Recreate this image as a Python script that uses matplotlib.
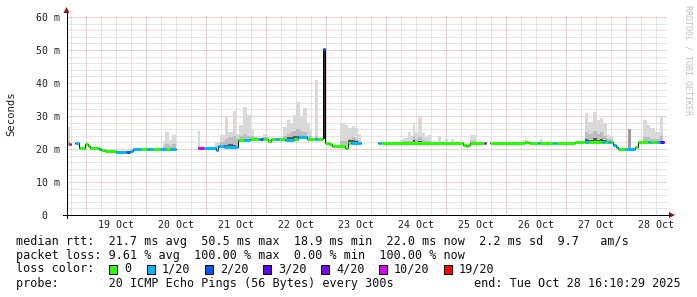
import matplotlib
matplotlib.use("Agg")
import matplotlib.pyplot as plt
from matplotlib.patches import Polygon, Rectangle

# ---------------- data (time in hours since 19 Oct 00:00, values in ms) -------------
day_labels = ["19 Oct", "20 Oct", "21 Oct", "22 Oct", "23 Oct",
              "24 Oct", "25 Oct", "26 Oct", "27 Oct", "28 Oct"]
ytick_vals = [0, 10, 20, 30, 40, 50, 60]
ytick_labels = ["0  ", "10 m", "20 m", "30 m", "40 m", "50 m", "60 m"]

loss_colors = ["#26ff00", "#00b8ff", "#0059ff", "#5e00ff", "#7e00ff", "#dd00ff", "#ff0000"]
loss_labels = ["0", "1/20", "2/20", "3/20", "4/20", "10/20", "19/20"]

# median rtt segments: start, end, value, loss-colour index
med_start = [-7.5, -6.7, -4.3, -2.7, -0.3, 0.9, 1.7, 5.3, 6.1, 7.7, 12.1, 16.1, 17.7, 18.9,
             22.1, 24.5, 26.9, 29.7, 32.1, 33.7,
             44.9, 47.3, 52.1, 52.9, 55.3, 60.9, 63.3, 65.7, 68.9, 69.7, 70.9, 72.9, 74.1,
             75.7, 77.3, 79.7, 83.3, 84.9, 88.5, 91.7, 92.9, 94.9, 95.7, 97.3, 98.5, 103.7,
             104.9, 106.1,
             116.9, 118.1, 150.9, 152.1, 152.9, 153.7, 159.3,
             161.7, 175.7, 177.3, 180.9, 181.7, 186.9, 188.1, 195.7, 199.7, 200.9, 206.5,
             207.7, 208.9, 210.1, 210.9, 212.1, 212.9, 215.7, 219.7, 220.9, 224.9, 226.1,
             228.5, 229.7]
med_end = [-6.7, -5.9, -2.7, -0.3, 0.9, 1.7, 5.3, 6.1, 7.7, 12.1, 16.1, 17.7, 18.9, 22.1,
           24.5, 26.9, 29.7, 32.1, 33.7, 36.1,
           47.3, 52.1, 52.9, 55.3, 60.9, 63.3, 65.7, 68.9, 69.7, 70.9, 72.9, 74.1, 75.7,
           77.3, 79.7, 83.3, 84.9, 88.5, 91.7, 92.9, 94.9, 95.7, 97.3, 98.5, 103.7, 104.9,
           106.1, 110.1,
           118.1, 150.9, 152.1, 152.9, 153.7, 159.3, 160.1,
           175.7, 177.3, 180.9, 181.7, 186.9, 188.1, 195.7, 199.7, 200.9, 206.5, 207.7,
           208.9, 210.1, 210.9, 212.1, 212.9, 215.7, 219.7, 220.9, 224.9, 226.1, 228.5,
           229.7, 231.3]
med_ms = [21.5, 21.5, 21.8, 20.2, 21.5, 20.9, 20.2, 19.9, 19.6, 19.3, 19.0, 19.0, 19.4, 20.0,
          20.0, 20.0, 20.0, 20.0, 20.0, 20.0,
          20.4, 20.3, 19.7, 20.9, 20.7, 22.6, 22.6, 22.9, 22.9, 22.9, 22.9, 22.4, 23.0,
          23.0, 23.0, 22.8, 23.0, 23.7, 23.0, 23.0, 23.0, 50.4, 21.9, 21.5, 20.9, 20.4,
          21.9, 21.9,
          21.9, 21.9, 21.2, 20.8, 21.3, 21.9, 21.9,
          21.9, 22.2, 21.9, 21.9, 21.9, 21.9, 21.9, 22.2, 22.2, 22.2, 22.2,
          22.2, 22.2, 22.0, 21.2, 20.7, 20.1, 20.1, 20.7, 22.0, 22.0, 22.0,
          22.0, 22.0]
med_loss = [0, 5, 1, 0, 0, 0, 0, 1, 0, 0, 1, 2, 1, 1,
            0, 1, 0, 1, 0, 1,
            5, 1, 1, 1, 1, 0, 1, 0, 1, 2, 0, 0, 0,
            1, 0, 1, 0, 1, 0, 1, 0, 2, 0, 0, 0, 0,
            0, 1,
            1, 0, 0, 0, 0, 0, 5,
            0, 0, 0, 1, 0, 1, 0, 0, 1, 0, 1,
            0, 1, 0, 1, 1, 0, 1, 0, 0, 1, 0,
            1, 3]

# smoke (ping spread): start, end, low, dark, mid, top
smoke_start = [-7.1, 30.9, 31.7, 33.3, 34.5, 44.9,
               51.7, 53.7, 55.7, 56.9, 58.9, 60.1, 61.3, 62.9, 64.5, 66.1, 67.3, 70.9,
               78.9, 80.5, 81.7, 82.9, 84.1, 85.7, 86.9, 88.5, 89.7, 91.7, 94.9,
               101.7, 103.7, 104.9, 106.5, 107.7, 108.9,
               125.7, 126.9, 128.9, 130.1, 130.9, 131.7, 132.9, 134.5, 135.7, 136.9,
               140.9, 143.7, 146.1, 153.7, 174.9, 181.7,
               199.7, 200.9, 202.9, 204.5, 205.7, 206.9, 208.5, 209.7, 216.9,
               222.9, 224.5, 225.7, 227.7, 229.7]
smoke_end = [-6.3, 31.7, 33.3, 34.5, 36.1, 45.7,
             53.7, 55.7, 56.9, 58.9, 60.1, 61.3, 62.9, 64.5, 66.1, 67.3, 68.5, 72.9,
             80.5, 81.7, 82.9, 84.1, 85.7, 86.9, 88.5, 89.7, 90.5, 92.9, 95.7,
             103.7, 104.9, 106.5, 107.7, 108.9, 110.1,
             126.9, 128.9, 130.1, 130.9, 131.7, 132.9, 134.5, 135.7, 136.9, 138.1,
             142.1, 144.9, 147.3, 156.1, 176.5, 182.9,
             200.9, 202.9, 204.5, 205.7, 206.9, 208.5, 209.7, 210.9, 218.1,
             224.5, 225.7, 227.7, 229.7, 230.9]
smoke_low = [21.5, 20.0, 20.0, 20.0, 20.0, 20.4,
             20.3, 20.7, 20.7, 20.7, 20.7, 20.7, 22.6, 22.6, 22.6, 22.9, 22.9, 22.9,
             23.0, 23.0, 23.0, 23.0, 23.0, 23.0, 23.0, 23.0, 23.0, 23.0, 23.0,
             20.9, 20.9, 21.9, 21.9, 21.9, 21.9,
             21.9, 21.9, 21.9, 21.9, 21.9, 21.9, 21.9, 21.9, 21.9, 21.9,
             21.9, 21.9, 21.9, 21.9, 21.9, 21.9,
             22.2, 22.2, 22.2, 22.2, 22.2, 22.2, 22.2, 22.2, 20.1,
             22.0, 22.0, 22.0, 22.0, 22.0]
smoke_dark = [21.5, 20.0, 20.0, 20.0, 20.0, 20.4,
              20.3, 21.1, 21.3, 21.4, 21.2, 20.7, 22.6, 22.6, 22.6, 22.9, 22.9, 22.9,
              23.0, 23.5, 23.6, 23.8, 23.8, 23.8, 23.6, 23.0, 23.0, 23.0, 50.4,
              20.9, 20.9, 22.6, 22.8, 22.5, 21.9,
              21.9, 21.9, 21.9, 21.9, 22.6, 21.9, 22.4, 21.9, 21.9, 21.9,
              21.9, 21.9, 21.9, 21.9, 21.9, 21.9,
              23.0, 22.8, 23.2, 22.8, 23.0, 22.6, 22.2, 22.2, 26.0,
              22.5, 22.5, 22.0, 22.0, 22.5]
smoke_mid = [22.5, 20.8, 21.5, 21.0, 21.5, 21.0,
             21.0, 22.0, 23.0, 23.5, 24.0, 23.0, 24.0, 24.5, 24.0, 23.8, 23.5, 23.5,
             24.0, 24.5, 25.0, 25.5, 26.0, 25.5, 25.0, 24.0, 23.8, 24.0, 50.4,
             22.5, 22.5, 23.0, 23.5, 23.0, 22.5,
             22.2, 22.3, 22.5, 22.5, 24.0, 23.0, 23.5, 22.8, 22.5, 22.5,
             22.2, 22.2, 22.2, 22.5, 22.2, 22.2,
             25.0, 24.5, 25.5, 24.5, 25.0, 24.0, 23.0, 23.0, 26.0,
             23.5, 23.5, 23.0, 23.0, 24.0]
smoke_top = [26.8, 22.5, 25.2, 22.7, 24.3, 25.5,
             22.2, 24.2, 29.8, 25.2, 31.5, 24.5, 27.3, 32.8, 30.3, 25.8, 23.9, 24.5,
             26.8, 28.8, 27.8, 30.3, 34.3, 29.8, 32.3, 27.8, 25.8, 40.9, 50.4,
             27.8, 27.3, 26.3, 27.0, 26.3, 24.5,
             22.7, 23.2, 25.2, 24.0, 27.8, 25.2, 29.6, 24.7, 23.5, 24.2,
             24.0, 22.9, 22.9, 24.2, 22.7, 22.9,
             30.8, 28.3, 31.3, 28.8, 29.3, 27.8, 24.2, 24.0, 26.0,
             28.8, 27.3, 26.3, 25.2, 30.0]

legend_rtt = "median rtt:  21.7 ms avg  50.5 ms max  18.9 ms min  22.0 ms now  2.2 ms sd  9.7   am/s"
legend_loss = "packet loss: 9.61 % avg  100.00 % max  0.00 % min  100.00 % now"
legend_probe = "probe:       20 ICMP Echo Pings (56 Bytes) every 300s"
legend_end = "end: Tue Oct 28 16:10:29 2025"

# ---------------- figure ----------------
W, H = 697, 297
fig = plt.figure(figsize=(W / 100, H / 100), dpi=100)
fig.patch.set_facecolor("white")
MONO = "DejaVu Sans Mono"

x0, y_bottom, pw, ph = 66.5, 215.0, 600.0, 200.0
ax = fig.add_axes([x0 / W, (H - y_bottom) / H, pw / W, ph / H])
ax.set_facecolor("white")
ax.set_xlim(-7.68, 232.32)
ax.set_ylim(0, 200 / 3.3)
for s in ax.spines.values():
    s.set_visible(False)

px = 0.72  # one pixel in points
minor_c = "#cccccc"
major_c = "#eba0a0"
# minor grid
for v in range(0, 61, 2):
    if v % 10:
        ax.axhline(v, color=minor_c, lw=px, ls=(0, (1, 1)), zorder=0)
for h in range(-6, 233, 6):
    if h % 24:
        ax.axvline(h, color=minor_c, lw=px, ls=(0, (1, 1)), zorder=0)
# major grid
for v in ytick_vals[1:]:
    ax.axhline(v, color=major_c, lw=px, ls=(0, (1, 1)), zorder=0.5)
for h in range(0, 233, 24):
    ax.axvline(h, color=major_c, lw=px, ls=(0, (1, 1)), zorder=0.5)

# smoke
for s, e, lo, dk, md, tp in zip(smoke_start, smoke_end, smoke_low, smoke_dark, smoke_mid, smoke_top):
    ax.bar(s, tp - lo, bottom=lo, width=e - s, align="edge", color="#d9d9d9", lw=0, zorder=1)
    ax.bar(s, md - lo, bottom=lo, width=e - s, align="edge", color="#bdbdbd", lw=0, zorder=1.1)
    if dk > lo:
        dcol = "#2e2e2e" if dk - lo > 10 else ("#9a9a9a" if dk - lo > 2 else "#5a5a5a")
        ax.bar(s, dk - lo, bottom=lo, width=e - s, align="edge", color=dcol, lw=0, zorder=1.2)

# black connector line for median steps
xs, ys = [], []
for i in range(len(med_start)):
    if i > 0 and abs(med_start[i] - med_end[i - 1]) > 1e-6:
        ax.plot(xs, ys, color="black", lw=px, zorder=2)
        xs, ys = [], []
    xs += [med_start[i], med_end[i]]
    ys += [med_ms[i], med_ms[i]]
ax.plot(xs, ys, color="black", lw=px, zorder=2)

# coloured median segments
for s, e, v, li in zip(med_start, med_end, med_ms, med_loss):
    ax.hlines(v, s, e, colors=loss_colors[li], lw=3 * px, capstyle="butt", zorder=3)

ax.set_yticks(ytick_vals)
ax.set_yticklabels(ytick_labels, fontfamily=MONO, fontsize=7.1, color="#202020")
ax.set_xticks([12 + 24 * k for k in range(len(day_labels))])
ax.set_xticklabels(day_labels, fontfamily=MONO, fontsize=7.1, color="#202020")
ax.tick_params(axis="y", length=0, pad=4.6)
ax.tick_params(axis="x", length=0, pad=3.4)

# ---------------- overlay for axes, arrows, legend ----------------
ov = fig.add_axes([0, 0, 1, 1], facecolor="none")
ov.set_xlim(0, W)
ov.set_ylim(H, 0)
ov.axis("off")
ov.plot([x0, x0], [218, 12], color="black", lw=px)
ov.plot([63, 670], [y_bottom, y_bottom], color="black", lw=px)
ov.add_patch(Polygon([[x0 - 3, 13], [x0 + 3, 13], [x0, 7]], closed=True, color="#a01010", lw=0))
ov.add_patch(Polygon([[669, y_bottom - 3], [669, y_bottom + 3], [675, y_bottom]], closed=True,
                     color="#a01010", lw=0))

ov.text(11, 114, "Seconds", rotation=90, ha="center", va="center", fontfamily=MONO,
        fontsize=7.7, color="#202020")
ov.text(688, 60, "RRDTOOL / TOBI OETIKER", rotation=-90, ha="center", va="center",
        fontfamily=MONO, fontsize=6.0, color="#c0c0c0")

fs = 8.5
tc = "#101010"
ov.text(16, 241, legend_rtt, ha="left", va="center", fontfamily=MONO, fontsize=fs, color=tc)
ov.text(16, 255, legend_loss, ha="left", va="center", fontfamily=MONO, fontsize=fs, color=tc)
ov.text(16, 269, "loss color:", ha="left", va="center", fontfamily=MONO, fontsize=fs, color=tc)
box_x = [109, 147, 205, 263, 321, 379, 444]
for bx, c, lab in zip(box_x, loss_colors, loss_labels):
    ov.add_patch(Rectangle((bx, 265), 8, 9, facecolor=c, edgecolor="black", lw=px))
    ov.text(bx + 15, 269, lab, ha="left", va="center", fontfamily=MONO, fontsize=fs, color=tc)
ov.text(16, 283.5, legend_probe, ha="left", va="center", fontfamily=MONO, fontsize=fs, color=tc)
ov.text(681, 283.5, legend_end, ha="right", va="center", fontfamily=MONO, fontsize=fs, color=tc)

fig.savefig("out.png", dpi=100, facecolor="white")
